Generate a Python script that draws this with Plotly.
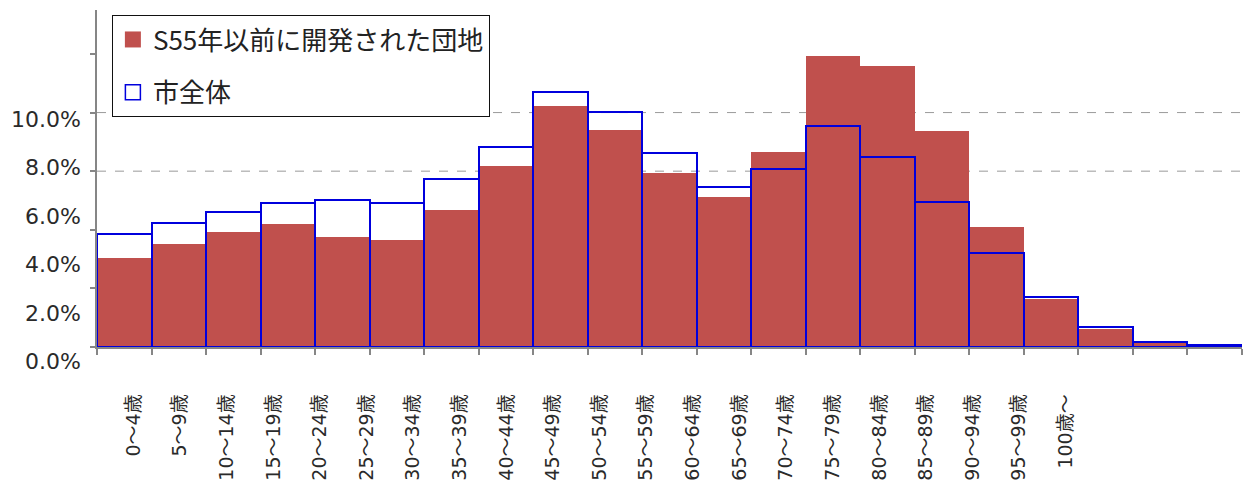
import plotly.graph_objects as go

# ---- data (percent of population by 5-year age group) ----
categories = ["0～4歳", "5～9歳", "10～14歳", "15～19歳", "20～24歳", "25～29歳",
              "30～34歳", "35～39歳", "40～44歳", "45～49歳", "50～54歳", "55～59歳",
              "60～64歳", "65～69歳", "70～74歳", "75～79歳", "80～84歳", "85～89歳",
              "90～94歳", "95～99歳", "100歳～"]
danchi = [3.04, 3.50, 3.92, 4.21, 3.77, 3.65, 4.68, 6.19, 8.23, 7.41, 5.93,
          5.11, 6.66, 9.94, 9.59, 7.37, 4.08, 1.63, 0.61, 0.13, 0.03]
city = [3.85, 4.24, 4.62, 4.90, 5.00, 4.90, 5.73, 6.82, 8.71, 8.01, 6.63,
        5.47, 6.09, 7.55, 6.48, 4.95, 3.20, 1.72, 0.69, 0.17, 0.07]
ytick_values = [0, 2, 4, 6, 8, 10]
ytick_text = ["0.0%", "2.0%", "4.0%", "6.0%", "8.0%", "10.0%"]
name_danchi = "S55年以前に開発された団地"
name_city = "市全体"

# ---- layout constants ----
RED = "#C0504D"
BLUE = "#0000DD"
AXIS = "#868686"
YMAX = 11.5
n = len(categories)
xpos = list(range(n))
# tick-label placement as in the reference rendering
lab_x0, lab_dx = 0.17, 0.855
ylab_y0, ylab_dy = -0.51, 1.655

fig = go.Figure()
fig.add_trace(go.Bar(x=xpos, y=danchi, width=1, name=name_danchi,
                     marker=dict(color=RED, line=dict(width=0)),
                     showlegend=False))
fig.add_trace(go.Bar(x=xpos, y=city, width=1, name=name_city,
                     marker=dict(color="rgba(0,0,0,0)", line=dict(color=BLUE, width=2)),
                     showlegend=False))
# legend entries
fig.add_trace(go.Scatter(x=[None], y=[None], mode="markers", name=name_danchi,
                         legendgroup="a",
                         marker=dict(symbol="square", size=16, color=RED,
                                     line=dict(width=0))))
fig.add_trace(go.Scatter(x=[None], y=[None], mode="markers", name=name_city,
                         legendgroup="b",
                         marker=dict(symbol="square-open", size=15, color=BLUE,
                                     line=dict(width=1.5, color=BLUE))))

# dashed gridlines
for gv in [6, 8]:
    fig.add_shape(type="line", xref="paper", yref="y", x0=0, x1=1, y0=gv, y1=gv,
                  line=dict(color="#9A9A9A", width=1, dash="dash"), layer="below")

# y tick labels (positioned as in the reference)
for k, t in enumerate(ytick_text):
    fig.add_annotation(text=t, xref="paper", yref="paper", x=0, xshift=-14,
                       y=(ylab_y0 + ylab_dy * k) / YMAX, xanchor="right",
                       yanchor="middle", showarrow=False,
                       font=dict(family="DejaVu Sans", size=22, color="#2A2A2A"))

fig.update_layout(
    width=1248, height=488,
    margin=dict(l=97, r=6, t=10, b=141, autoexpand=False),
    paper_bgcolor="white", plot_bgcolor="white",
    barmode="overlay", bargap=0,
    showlegend=True,
    legend=dict(x=0.013, y=0.985, xanchor="left", yanchor="top",
                bgcolor="white", bordercolor="#111111", borderwidth=1,
                font=dict(family="Noto Sans CJK JP", size=26, color="#222222"),
                tracegroupgap=16, itemsizing="trace"),
    xaxis=dict(range=[-0.5, n - 0.5], showgrid=False, zeroline=False,
               automargin=False,
               showline=True, linecolor=AXIS, linewidth=1.5,
               tickmode="array",
               tickvals=[lab_x0 + lab_dx * i for i in range(n)],
               ticktext=categories, tickangle=-90,
               ticks="outside", ticklen=38, tickcolor="rgba(0,0,0,0)",
               tickfont=dict(family="DejaVu Sans, Noto Sans CJK JP", size=19,
                             color="#2A2A2A"),
               minor=dict(tickmode="array",
                          tickvals=[i - 0.5 for i in range(n + 1)],
                          ticks="outside", ticklen=6, tickcolor=AXIS,
                          tickwidth=1.5, showgrid=False)),
    yaxis=dict(range=[0, YMAX], showgrid=False, zeroline=False,
               automargin=False,
               showline=True, linecolor=AXIS, linewidth=1.5,
               tickmode="array", tickvals=ytick_values, ticktext=ytick_text,
               showticklabels=False,
               ticks="outside", ticklen=5, tickcolor=AXIS, tickwidth=1.5),
)

fig.write_html("out.html",
               config={"displayModeBar": False},
               post_script="document.body.style.margin='0';"
                           "document.body.style.padding='0';"
                           "document.body.style.overflow='hidden';")
